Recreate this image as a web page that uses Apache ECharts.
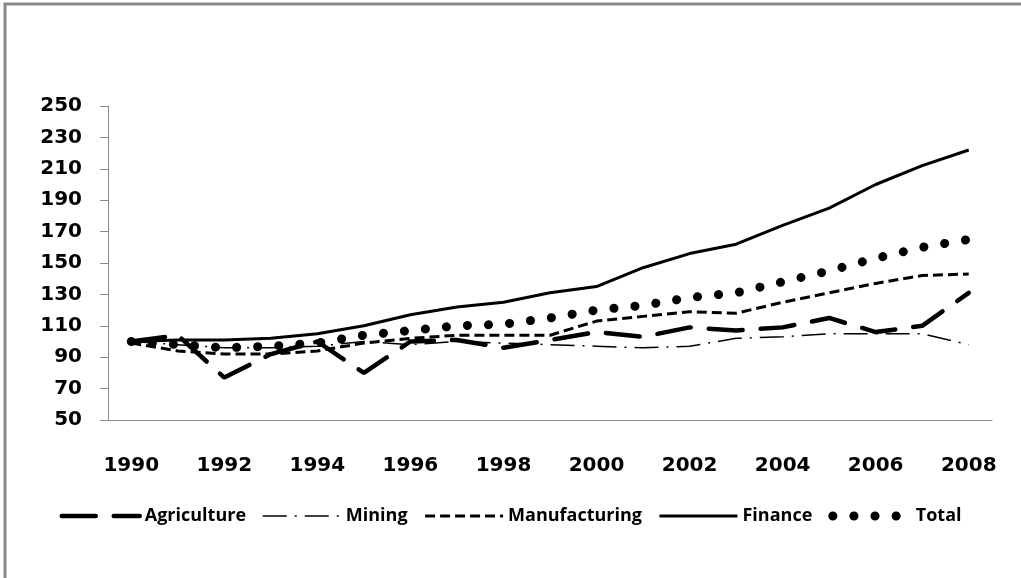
<!DOCTYPE html>
<html>
<head>
<meta charset="utf-8">
<script src="https://cdn.jsdelivr.net/npm/echarts@6/dist/echarts.min.js"></script>
<style>
  html, body { margin: 0; padding: 0; background: #fff; }
  #chart { width: 1021px; height: 578px; }
</style>
</head>
<body>
<div id="chart"></div>
<script>
const years = ['1990', '1991', '1992', '1993', '1994', '1995', '1996', '1997', '1998', '1999',
  '2000', '2001', '2002', '2003', '2004', '2005', '2006', '2007', '2008'];

const agriculture = [100, 104, 77, 92, 100, 80, 100, 101, 96, 101, 106, 103, 109, 107, 109, 115, 106, 110, 131];
const mining = [100, 98, 96, 96, 97, 100, 98, 100, 99, 98, 97, 96, 97, 102, 103, 105, 105, 105, 98];
const manufacturing = [99, 94, 92, 92, 94, 99, 102, 104, 104, 104, 113, 116, 119, 118, 125, 131, 137, 142, 143];
const finance = [100, 101, 101, 102, 105, 110, 117, 122, 125, 131, 135, 147, 156, 162, 174, 185, 200, 212, 222];
const total = [100, 98, 96, 97, 99, 104, 107, 110, 111, 115, 120, 123, 128, 131, 138, 145, 153, 160, 165];

const yTicks = { min: 50, max: 250, step: 20 };

const chart = echarts.init(document.getElementById('chart'));

const labelFont = { fontFamily: 'DejaVu Sans', fontWeight: 'bold', fontSize: 20, color: '#000' };

const line = (name, data, lineStyle) => ({
  name: name,
  type: 'line',
  data: data,
  symbol: 'none',
  smooth: false,
  itemStyle: { color: '#000' },
  lineStyle: Object.assign({ color: '#000' }, lineStyle)
});

const option = {
  backgroundColor: '#fff',
  animation: false,
  graphic: [
    {
      type: 'rect',
      shape: { x: 5, y: 4, width: 1040, height: 600 },
      style: { fill: 'none', stroke: '#8a8a8a', lineWidth: 3 }
    }
  ],
  grid: { left: 108, right: 29, top: 106, bottom: 158 },
  legend: {
    bottom: 48,
    left: 'center',
    itemWidth: 78,
    itemHeight: 14,
    itemGap: 16,
    // hide the marker circle, keep the series line pattern
    itemStyle: { color: 'rgba(0,0,0,0)', borderColor: 'rgba(0,0,0,0)', borderWidth: 0 },
    lineStyle: { width: 'inherit' },
    textStyle: { fontFamily: 'Open Sans', fontWeight: 'bold', fontSize: 18, color: '#000' },
    data: ['Agriculture', 'Mining', 'Manufacturing', 'Finance', 'Total']
  },
  xAxis: {
    type: 'category',
    data: years,
    boundaryGap: true,
    axisLine: { lineStyle: { color: '#8c8c8c', width: 1 } },
    axisTick: { interval: 0, length: 8, lineStyle: { color: '#8c8c8c' } },
    axisLabel: Object.assign({ interval: 1, margin: 36 }, labelFont),
    splitLine: { show: false }
  },
  yAxis: {
    type: 'value',
    min: yTicks.min,
    max: yTicks.max,
    interval: yTicks.step,
    axisLine: { show: true, lineStyle: { color: '#8c8c8c', width: 1 } },
    axisTick: { show: true, length: 8, lineStyle: { color: '#8c8c8c' } },
    axisLabel: Object.assign({ margin: 26 }, labelFont),
    splitLine: { show: false }
  },
  series: [
    line('Agriculture', agriculture, { width: 4.5, type: [34, 18], cap: 'round' }),
    line('Mining', mining, { width: 1.5, type: [24, 8, 2, 8] }),
    line('Manufacturing', manufacturing, { width: 3, type: [10, 5] }),
    line('Finance', finance, { width: 3, type: 'solid' }),
    line('Total', total, { width: 9, type: [0.1, 21], cap: 'round' })
  ]
};

chart.setOption(option);
</script>
</body>
</html>
